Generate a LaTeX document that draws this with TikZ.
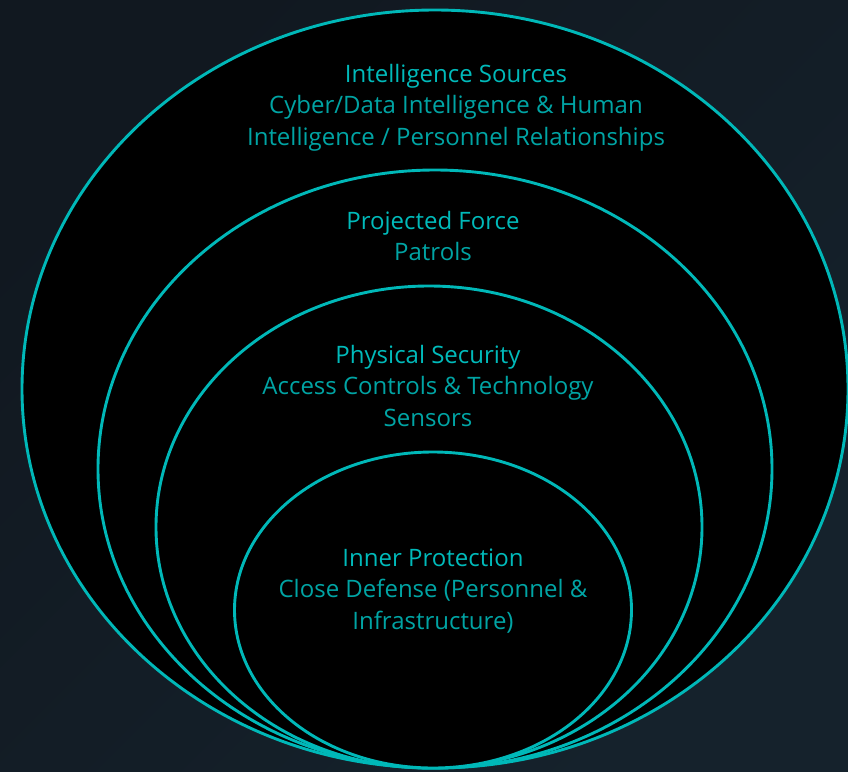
\documentclass[tikz,border=0pt]{standalone}
\usepackage{fontspec}
\setmainfont{Open Sans}
\usetikzlibrary{shapes.geometric,positioning}
\definecolor{bgdark}{HTML}{111820}
\definecolor{bglight}{HTML}{15222C}
\definecolor{ringteal}{HTML}{00B8B8}
\definecolor{headteal}{HTML}{00BABA}
\definecolor{bodyteal}{HTML}{00A4A4}
\tikzset{ring/.style={draw=ringteal, line width=2.9pt, fill=black, ellipse, inner sep=0pt},
  head/.style={text=headteal, font=\fontsize{24}{28}\selectfont, inner sep=0pt, anchor=base},
  body/.style={text=bodyteal, font=\fontsize{24}{32}\selectfont, align=center, inner sep=0pt}}

\begin{document}
\begin{tikzpicture}[x=1pt,y=-1pt]
      \shade[bottom color=bgdark, top color=bgdark, right color=bglight, shading angle=45] (0,0) rectangle (848,771);
      \useasboundingbox (0,0) rectangle (848,771);
      \node[ring, minimum width=826pt, minimum height=758pt] (outer) at (435,389) {};
      \node[ring, minimum width=674pt, minimum height=598pt] (force) at (435,469) {};
      \node[ring, minimum width=546pt, minimum height=482pt] (phys) at (429,527) {};
      \node[ring, minimum width=397pt, minimum height=316pt] (inner) at (433,610) {};
      % two-line bodies: base is the last line
      \node[head] (t1) at (456,82) {Intelligence Sources};
      \node[body, below=63.5pt of t1.base, anchor=base] (b1) {Cyber/Data Intelligence \& Human\\Intelligence / Personnel Relationships};
      \node[head] (t2) at (433,229) {Projected Force};
      \node[body, below=31.5pt of t2.base, anchor=base] (b2) {Patrols};
      \node[head] (t3) at (428,363) {Physical Security};
      \node[body, below=63.5pt of t3.base, anchor=base] (b3) {Access Controls \& Technology\\Sensors};
      \node[head] (t4) at (433,566) {Inner Protection};
      \node[body, below=63.5pt of t4.base, anchor=base] (b4) {Close Defense (Personnel \&\\Infrastructure)};
    \end{tikzpicture}
\end{document}
